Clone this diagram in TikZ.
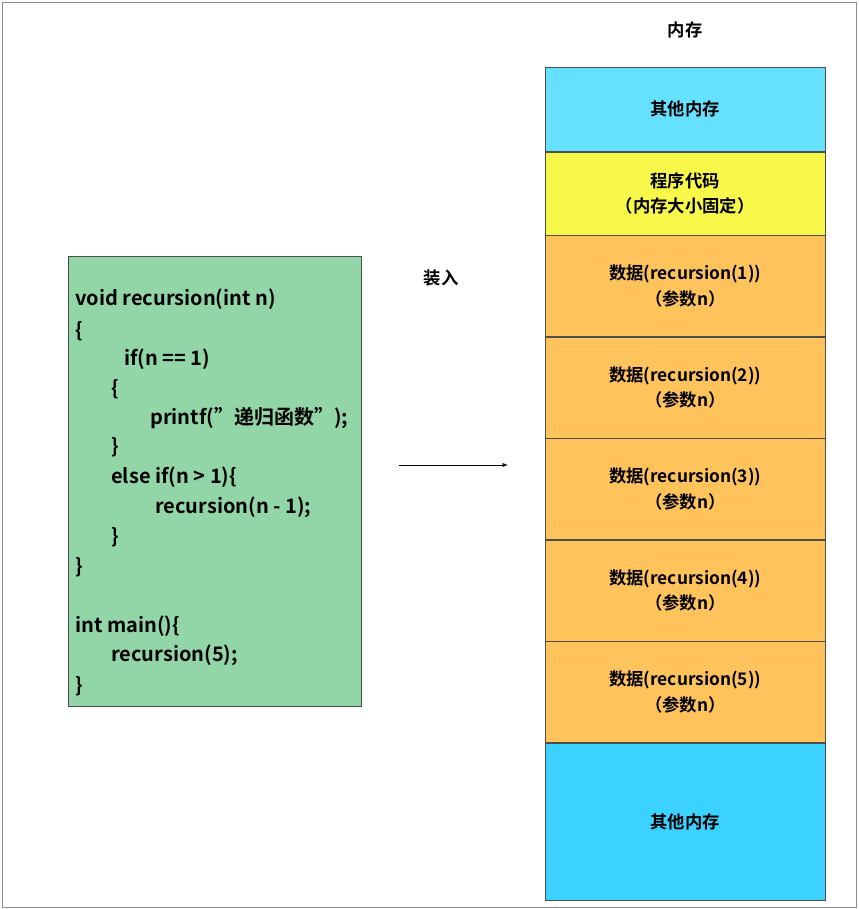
\documentclass[tikz,border=0pt]{standalone}
\usepackage{fontspec}
\setmainfont{Noto Sans CJK SC}[BoldFont={* Bold}]
\usetikzlibrary{positioning}
\definecolor{cyanA}{HTML}{66E0FF}
\definecolor{cyanB}{HTML}{3CD2FF}
\definecolor{yellowA}{HTML}{F8F84A}
\definecolor{orangeA}{HTML}{FFC35C}
\definecolor{greenA}{HTML}{92D6A8}
\tikzset{
  memblock/.style = {draw = black!70, minimum width = 210pt, inner sep = 0pt,
    align = center, font = \fontsize{13}{19}\selectfont\bfseries},
  codeline/.style = {anchor = west, inner sep = 0pt, font = \fontsize{15}{18}\selectfont\bfseries}
}
\begin{document}
\begin{tikzpicture}[x = 0.75pt, y = -0.75pt]
\useasboundingbox (0,0) rectangle (858,909);
\draw[black!45] (2,2) rectangle (856,907);
% memory column
\node[font = \fontsize{13}{16}\selectfont\bfseries] (title) at (685,30) {内存};
\node[memblock, fill = cyanA, minimum height = 63pt, anchor = north west] (m0) at (545,67) {其他内存};
\node[memblock, fill = yellowA, minimum height = 62.25pt, below = 0pt of m0] (m1) {程序代码\\（内存大小固定）};
\foreach \i [evaluate = \i as \p using int(\i)] in {1,...,5} {
  \pgfmathtruncatemacro{\prev}{\i}
  \node[memblock, fill = orangeA, minimum height = 75.75pt, below = 0pt of m\prev] (m\the\numexpr\i+1\relax) {数据(recursion(\i))\\（参数n）};
}
\node[memblock, fill = cyanB, minimum height = 117.75pt, below = 0pt of m6] (m7) {其他内存};
% code box
\node[draw = black!70, fill = greenA, minimum width = 219.75pt, minimum height = 337.5pt,
  anchor = north west] (code) at (68,256) {};
\node[codeline] (c1) at (75,299) {void recursion(int n)};
\node[codeline] (c2) at (75,331) {\{};
\node[codeline] (c3) at (124,359) {if(n == 1)};
\node[codeline] (c4) at (111,389) {\{};
\node[codeline] (c5) at (150,418) {printf("递归函数");};
\node[codeline] (c6) at (111,447) {\}};
\node[codeline] (c7) at (111,477) {else if(n > 1)\{};
\node[codeline] (c8) at (155,507) {recursion(n - 1);};
\node[codeline] (c9) at (111,537) {\}};
\node[codeline] (c10) at (75,567) {\}};
\node[codeline] (c11) at (75,626) {int main()\{};
\node[codeline] (c12) at (111,655) {recursion(5);};
\node[codeline] (c13) at (75,686) {\}};
% load arrow
\coordinate (a0) at (399,465);
\coordinate (a1) at (508,465);
\draw[-latex] (a0) -- (a1);
\node[font = \fontsize{13}{16}\selectfont\bfseries] (load) at (441,278) {装入};
\end{tikzpicture}
\end{document}
